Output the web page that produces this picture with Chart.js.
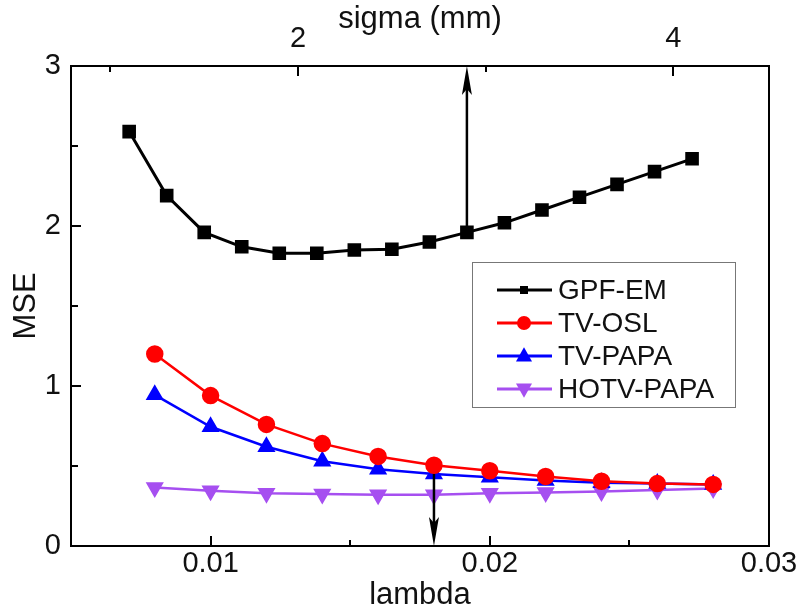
<!DOCTYPE html>
<html>
<head>
<meta charset="utf-8">
<script src="https://cdn.jsdelivr.net/npm/chart.js@4.4.1/dist/chart.umd.min.js"></script>
<style>
  html, body { margin: 0; padding: 0; background: #fff; }
</style>
</head>
<body>
<canvas id="mseChart" width="802" height="611"></canvas>
<script>
// top axis: sigma (mm), used by GPF-EM
const sigma = [1.1, 1.3, 1.5, 1.7, 1.9, 2.1, 2.3, 2.5, 2.7, 2.9, 3.1, 3.3, 3.5, 3.7, 3.9, 4.1];
const gpfEm = [2.59, 2.19, 1.96, 1.87, 1.83, 1.83, 1.85, 1.855, 1.90, 1.96, 2.02, 2.10, 2.18, 2.26, 2.34, 2.42];

// bottom axis: lambda, used by the TV methods
const lambda = [0.008, 0.010, 0.012, 0.014, 0.016, 0.018, 0.020, 0.022, 0.024, 0.026, 0.028];
const tvOsl = [1.20, 0.94, 0.76, 0.64, 0.56, 0.505, 0.47, 0.435, 0.405, 0.39, 0.385];
const tvPapa = [0.945, 0.745, 0.62, 0.53, 0.48, 0.45, 0.43, 0.41, 0.395, 0.39, 0.385];
const hotvPapa = [0.365, 0.345, 0.33, 0.325, 0.32, 0.32, 0.33, 0.335, 0.34, 0.35, 0.36];

// marked points (arrows)
const arrowSigma = [2.9, 1.96, 3];    // x, from y, to y
const arrowLambda = [0.018, 0.45, 0]; // x, from y, to y

const FONT = "'Liberation Sans', Arial, sans-serif";
const tickFont = { family: FONT, size: 29 };
const titleFont = { family: FONT, size: 31, lineHeight: 1 };

const near = (a, b) => Math.abs(a - b) < 1e-9;
const isMajorX = v => v > 0.0051 && Math.abs(v * 100 - Math.round(v * 100)) < 1e-6;

function marker(ctx, style, x, y, r) {
  ctx.beginPath();
  if (style === 'rect') {
    ctx.rect(x - r, y - r, 2 * r, 2 * r);
  } else if (style === 'circle') {
    ctx.arc(x, y, r, 0, Math.PI * 2);
  } else if (style === 'up') {
    ctx.moveTo(x, y - r * 1.1);
    ctx.lineTo(x + r, y + r * 0.7);
    ctx.lineTo(x - r, y + r * 0.7);
    ctx.closePath();
  } else {
    ctx.moveTo(x, y + r * 1.1);
    ctx.lineTo(x + r, y - r * 0.7);
    ctx.lineTo(x - r, y - r * 0.7);
    ctx.closePath();
  }
  ctx.fill();
}

function arrow(ctx, xs, ys, xv, from, to) {
  const x = xs.getPixelForValue(xv);
  const y1 = ys.getPixelForValue(from);
  const y2 = ys.getPixelForValue(to);
  const dir = y2 < y1 ? 1 : -1;
  ctx.beginPath();
  ctx.moveTo(x, y1);
  ctx.lineTo(x, y2 + dir * 20);
  ctx.stroke();
  ctx.beginPath();
  ctx.moveTo(x, y2);
  ctx.lineTo(x - 5, y2 + dir * 29);
  ctx.lineTo(x, y2 + dir * 23);
  ctx.lineTo(x + 5, y2 + dir * 29);
  ctx.closePath();
  ctx.fill();
}

const framePlugin = {
  id: 'frame',
  afterDatasetsDraw(chart) {
    const { ctx, chartArea: a, scales } = chart;
    ctx.save();
    ctx.strokeStyle = '#000';
    ctx.fillStyle = '#000';
    ctx.lineWidth = 2.5;
    arrow(ctx, scales.x2, scales.y, arrowSigma[0], arrowSigma[1], arrowSigma[2]);
    arrow(ctx, scales.x, scales.y, arrowLambda[0], arrowLambda[1], arrowLambda[2]);

    ctx.lineWidth = 2;
    ctx.strokeRect(a.left, a.top, a.right - a.left, a.bottom - a.top);
    ctx.beginPath();
    scales.x.ticks.forEach(t => {
      if (near(t.value, scales.x.min) || near(t.value, scales.x.max)) return;
      const px = Math.round(scales.x.getPixelForValue(t.value));
      ctx.moveTo(px, a.bottom);
      ctx.lineTo(px, a.bottom - (isMajorX(t.value) ? 10 : 6));
    });
    scales.x2.ticks.forEach(t => {
      if (!Number.isInteger(t.value)) return;
      const px = Math.round(scales.x2.getPixelForValue(t.value));
      ctx.moveTo(px, a.top);
      ctx.lineTo(px, a.top + (t.value % 2 === 0 ? 10 : 6));
    });
    scales.y.ticks.forEach(t => {
      if (near(t.value, 0) || near(t.value, 3)) return;
      const py = Math.round(scales.y.getPixelForValue(t.value));
      ctx.moveTo(a.left, py);
      ctx.lineTo(a.left + (Number.isInteger(t.value) ? 10 : 7), py);
    });
    ctx.stroke();

    // legend box
    const bx = 472, by = 262, bw = 263, bh = 145;
    ctx.fillStyle = '#fff';
    ctx.fillRect(bx, by, bw, bh);
    ctx.strokeStyle = '#777';
    ctx.lineWidth = 1;
    ctx.strokeRect(bx + 0.5, by + 0.5, bw, bh);
    const styles = ['rect', 'circle', 'up', 'down'];
    const sizes = [4, 7, 8, 8];
    ctx.font = '28px ' + FONT;
    ctx.textBaseline = 'middle';
    chart.data.datasets.forEach((ds, i) => {
      const y = 290 + i * 33;
      ctx.strokeStyle = ds.borderColor;
      ctx.fillStyle = ds.borderColor;
      ctx.lineWidth = 3;
      ctx.beginPath();
      ctx.moveTo(497, y);
      ctx.lineTo(552, y);
      ctx.stroke();
      marker(ctx, styles[i], 524, y, sizes[i]);
      ctx.fillStyle = '#111';
      ctx.fillText(ds.label, 558, y + 1);
    });
    ctx.restore();
  }
};

const toPoints = (xs, ys) => xs.map((x, i) => ({ x: x, y: ys[i] }));

new Chart(document.getElementById('mseChart').getContext('2d'), {
  type: 'line',
  data: {
    datasets: [{
      label: 'GPF-EM',
      data: toPoints(sigma, gpfEm),
      xAxisID: 'x2',
      borderColor: '#000',
      backgroundColor: '#000',
      pointStyle: 'rect',
      pointRadius: 7.5,
      borderWidth: 3
    }, {
      label: 'TV-OSL',
      data: toPoints(lambda, tvOsl),
      xAxisID: 'x',
      borderColor: '#ff0000',
      backgroundColor: '#ff0000',
      pointStyle: 'circle',
      pointRadius: 7.5,
      borderWidth: 2.5
    }, {
      label: 'TV-PAPA',
      data: toPoints(lambda, tvPapa),
      xAxisID: 'x',
      borderColor: '#0000ff',
      backgroundColor: '#0000ff',
      pointStyle: 'triangle',
      pointRadius: 8,
      borderWidth: 2.5
    }, {
      label: 'HOTV-PAPA',
      data: toPoints(lambda, hotvPapa),
      xAxisID: 'x',
      borderColor: '#a64ff0',
      backgroundColor: '#a64ff0',
      pointStyle: 'triangle',
      pointRotation: 180,
      pointRadius: 8,
      borderWidth: 2.5
    }]
  },
  options: {
    responsive: false,
    animation: false,
    layout: { padding: { left: 0, right: 33, top: 0, bottom: 0 } },
    plugins: { legend: { display: false }, tooltip: { enabled: false } },
    elements: { line: { tension: 0 }, point: { borderWidth: 0 } },
    scales: {
      x: {
        type: 'linear', position: 'bottom', min: 0.005, max: 0.03,
        grid: { display: false, drawTicks: false }, border: { display: false },
        ticks: {
          stepSize: 0.005, autoSkip: false, maxRotation: 0, padding: 1,
          color: '#111', font: tickFont,
          callback: v => isMajorX(v) ? v.toFixed(2) : ''
        },
        title: { display: true, text: 'lambda', color: '#111', font: titleFont, padding: { top: 0, bottom: 0 } },
        afterFit: s => { s.height = 65; }
      },
      x2: {
        type: 'linear', position: 'top', min: 0.79, max: 4.51,
        grid: { display: false, drawTicks: false }, border: { display: false },
        ticks: {
          stepSize: 1, autoSkip: false, maxRotation: 0, padding: 10, includeBounds: false,
          color: '#111', font: tickFont,
          callback: v => (near(v, 2) || near(v, 4)) ? String(Math.round(v)) : ''
        },
        title: { display: true, text: 'sigma (mm)', color: '#111', font: titleFont, padding: { top: 4, bottom: 0 } },
        afterFit: s => { s.height = 66; }
      },
      y: {
        type: 'linear', position: 'left', min: 0, max: 3,
        grid: { display: false, drawTicks: false }, border: { display: false },
        ticks: {
          stepSize: 0.5, autoSkip: false, padding: 10,
          color: '#111', font: tickFont,
          callback: v => Number.isInteger(v) ? String(v) : ''
        },
        title: { display: true, text: 'MSE', color: '#111', font: titleFont, padding: { top: 11, bottom: 0 } },
        afterFit: s => { s.width = 71; }
      }
    }
  },
  plugins: [framePlugin]
});
</script>
</body>
</html>
